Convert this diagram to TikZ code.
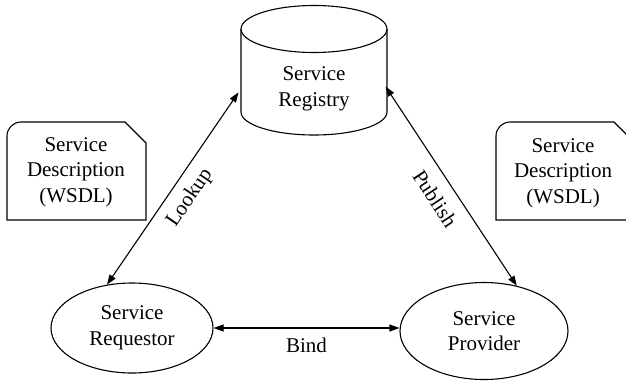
\documentclass[tikz,border=0pt]{standalone}
\usepackage{fontspec}
\setmainfont{Liberation Serif}
\usetikzlibrary{shapes.geometric,arrows.meta}

\tikzset{
  every node/.style={font=\fontsize{21}{25.5}\selectfont, align=center},
  role/.style={draw, ellipse, inner sep=0pt, line width=1.1pt},
  link/.style={{Triangle[length=10pt,width=7pt]}-{Triangle[length=10pt,width=7pt]}, line width=1.1pt},
  wsdldoc/.pic={
    \draw[line width=1.1pt] (0,98) [rounded corners=14pt] -- (0,0) [sharp corners] -- (118,0) -- (139,21) -- (139,98) -- cycle;
  }
}

\begin{document}
\begin{tikzpicture}[x=1pt, y=-1pt]
\useasboundingbox (0,0) rectangle (626,381);
% registry drum
\draw[line width=1.1pt] (314,29) ellipse [x radius=73pt, y radius=23.5pt];
\draw[line width=1.1pt] (241,29) -- (241,112) arc [start angle=180, end angle=360, x radius=73pt, y radius=23pt] -- (387,29);
\node[inner sep=0pt, minimum width=146pt] (reg) at (314,89) {Service\\Registry};
% the two parties
\node[role, minimum width=162pt, minimum height=90pt] (req) at (132,328) {Service\\Requestor};
\node[role, minimum width=168pt, minimum height=97pt] (prov) at (484,331) {Service\\Provider};
% wsdl sheets
\pic at (7,122) {wsdldoc};
\pic at (496,122) {wsdldoc};
\node (descL) at (76,172) {Service\\Description\\(WSDL)};
\node (descR) at (563,173) {Service\\Description\\(WSDL)};
% links
\draw[link, shorten >=4pt] (req.120) -- node[midway, sloped, below=6pt] {Lookup} (reg.west);
\draw[link, shorten <=-3pt] (reg.east) -- node[midway, sloped, below=9pt] {Publish} (prov.54);
\draw[link] (req.east) -- node[midway, below=6pt] {Bind} (req.east -| prov.west);
\end{tikzpicture}
\end{document}
